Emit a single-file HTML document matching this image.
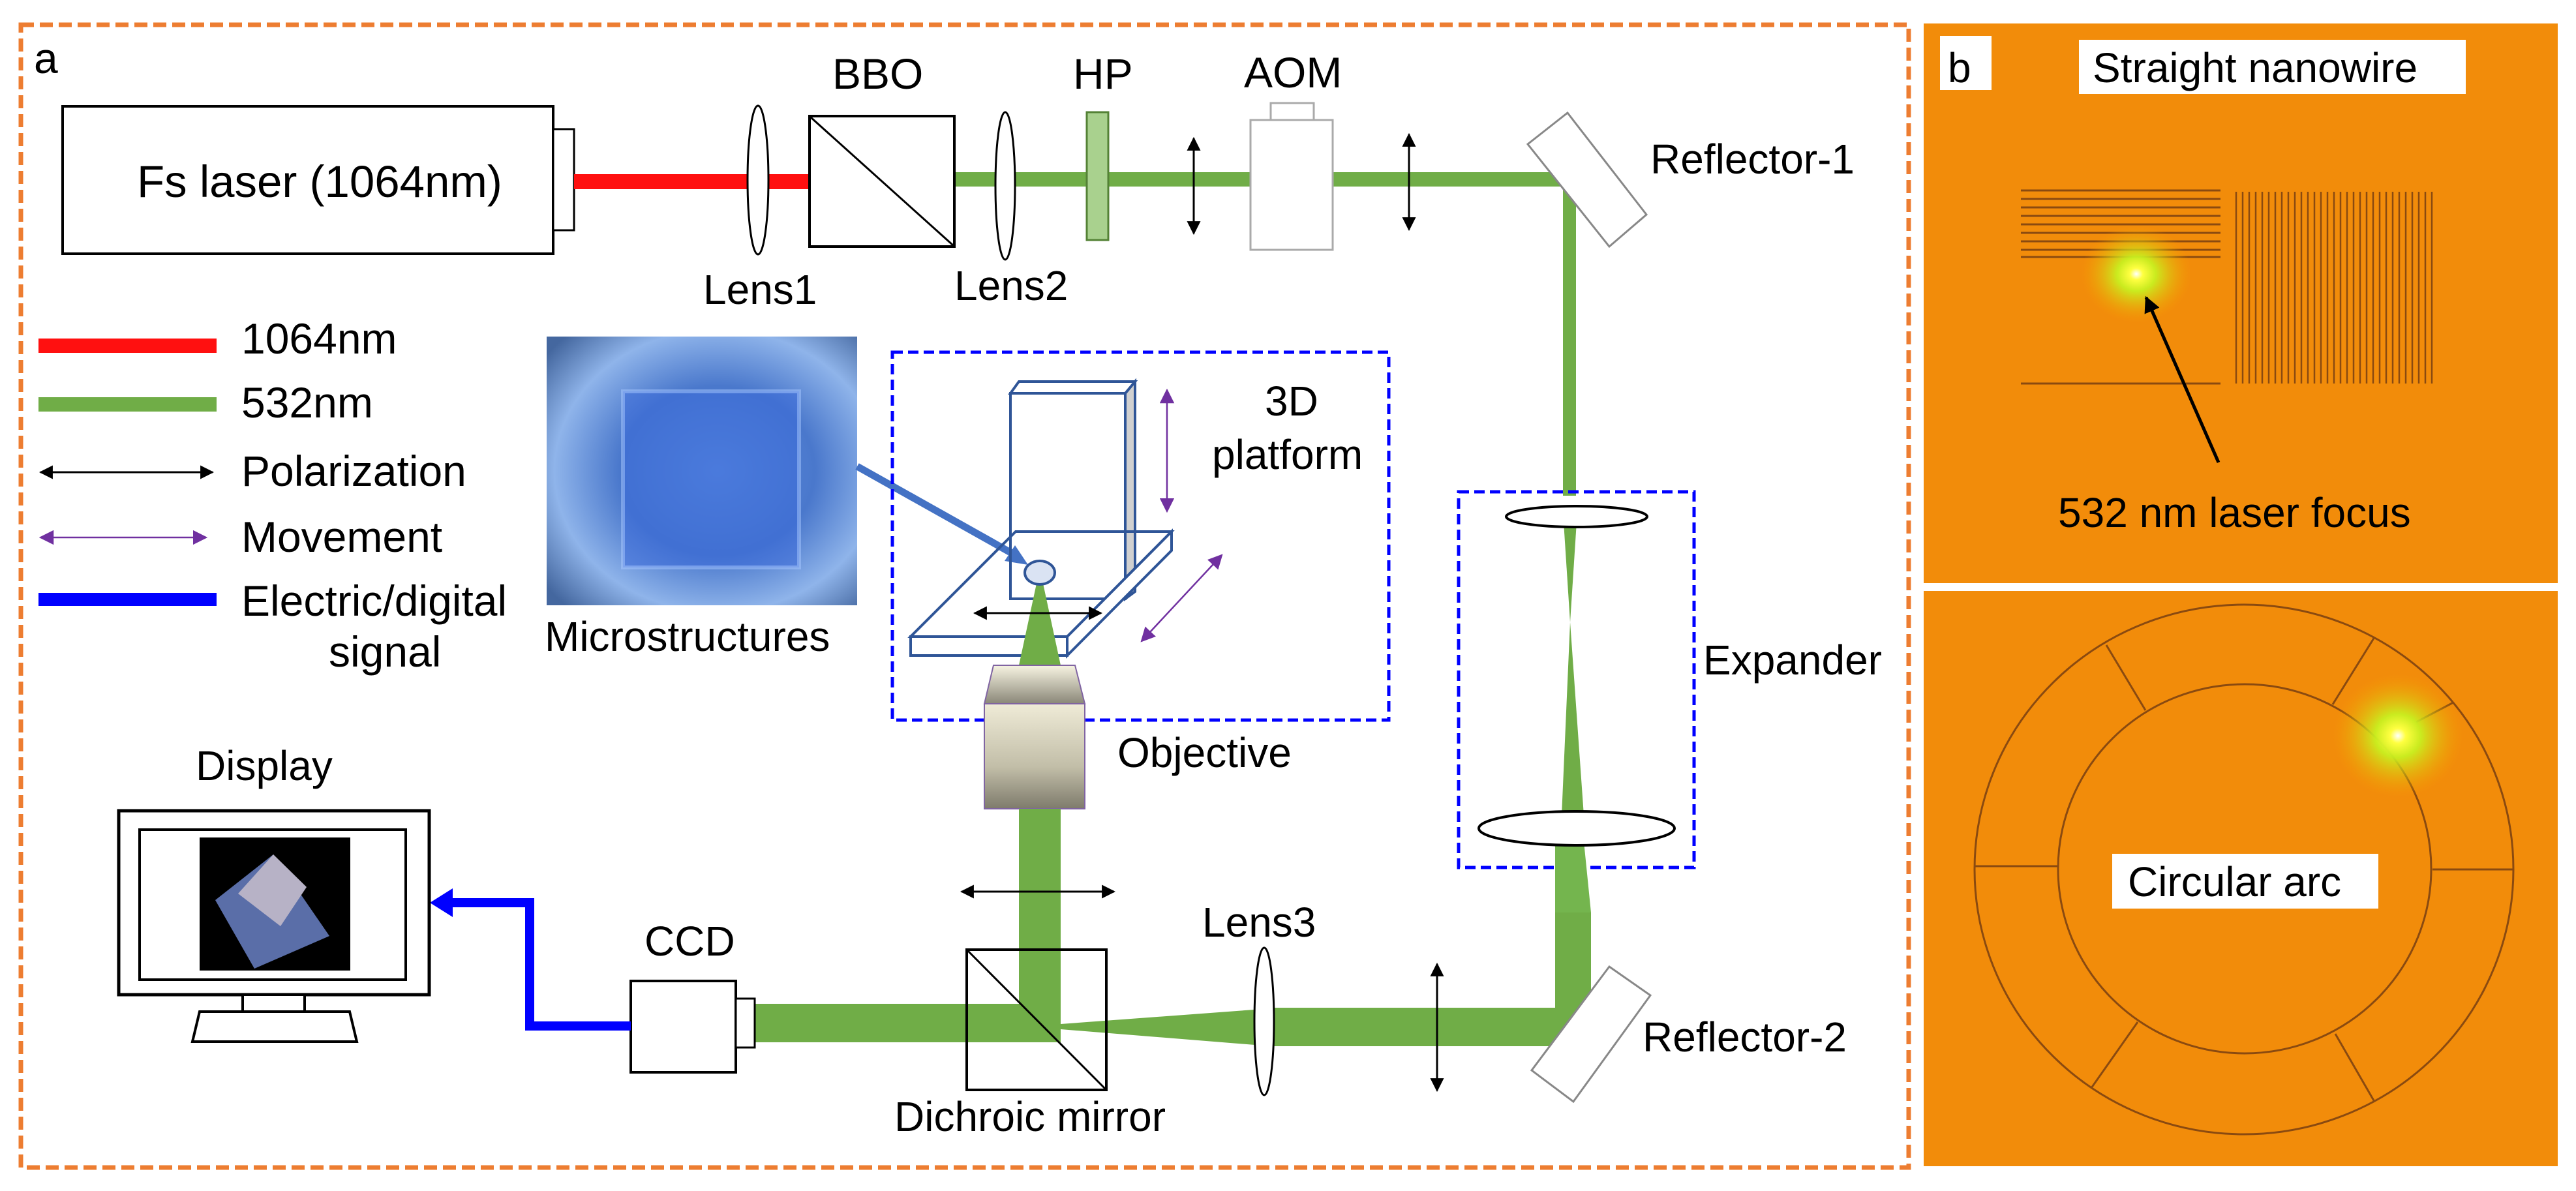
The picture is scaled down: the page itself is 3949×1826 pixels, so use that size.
<!DOCTYPE html>
<html><head><meta charset="utf-8"><style>
html,body{margin:0;padding:0;background:#fff;}
svg{display:block;}
text{font-family:"Liberation Sans",Arial,sans-serif;fill:#000;}
</style></head><body>
<svg width="3949" height="1826" viewBox="0 0 3949 1826" xmlns="http://www.w3.org/2000/svg">
<defs>
<radialGradient id="micro" cx="0.55" cy="0.5" r="0.7">
<stop offset="0" stop-color="#5f8fe0"/><stop offset="0.45" stop-color="#4a78cc"/><stop offset="0.75" stop-color="#8fb4ea"/><stop offset="1" stop-color="#44679f"/>
</radialGradient>
<linearGradient id="obj" x1="0" y1="0" x2="0" y2="1">
<stop offset="0" stop-color="#f7f4e2"/><stop offset="1" stop-color="#8a8778"/>
</linearGradient>
<linearGradient id="obj2" x1="0" y1="0" x2="0" y2="1">
<stop offset="0" stop-color="#efebd7"/><stop offset="0.6" stop-color="#c2bea8"/><stop offset="1" stop-color="#7e7b6c"/>
</linearGradient>
<radialGradient id="spot" cx="0.5" cy="0.5" r="0.5">
<stop offset="0" stop-color="#ffffff"/><stop offset="0.12" stop-color="#ffff40"/><stop offset="0.35" stop-color="#c8f020" stop-opacity="0.95"/><stop offset="1" stop-color="#f5a000" stop-opacity="0"/>
</radialGradient>
<marker id="ab" viewBox="0 0 10 10" refX="9" refY="5" markerWidth="7" markerHeight="7" orient="auto-start-reverse"><path d="M0,0L10,5L0,10z" fill="#000"/></marker>
<marker id="ap" viewBox="0 0 10 10" refX="9" refY="5" markerWidth="9" markerHeight="9" orient="auto-start-reverse"><path d="M0,0L10,5L0,10z" fill="#7030a0"/></marker>
<marker id="ak" viewBox="0 0 10 10" refX="9" refY="5" markerWidth="5" markerHeight="5" orient="auto-start-reverse"><path d="M0,0L10,5L0,10z" fill="#000"/></marker>
</defs>

<rect x="32" y="38" width="2894" height="1752" fill="none" stroke="#ED7D31" stroke-width="7" stroke-dasharray="20,9"/>
<text x="52" y="112" font-size="66">a</text>

<rect x="96" y="163" width="752" height="226" fill="#fff" stroke="#000" stroke-width="4"/>
<rect x="848" y="198" width="32" height="155" fill="#fff" stroke="#000" stroke-width="3"/>
<text x="210" y="302" font-size="69">Fs laser (1064nm)</text>
<rect x="880" y="267" width="362" height="23" fill="#FF1010"/>
<rect x="1463" y="264" width="940" height="22" fill="#70AD47"/>
<rect x="2396" y="280" width="20" height="480" fill="#70AD47"/>
<ellipse cx="1162" cy="276" rx="16" ry="114" fill="#fff" stroke="#000" stroke-width="3"/>
<rect x="1241" y="178" width="222" height="200" fill="#fff" stroke="#000" stroke-width="4"/>
<line x1="1243" y1="180" x2="1461" y2="376" stroke="#000" stroke-width="3"/>
<ellipse cx="1541" cy="285" rx="15" ry="113" fill="#fff" stroke="#000" stroke-width="3"/>
<rect x="1666" y="172" width="33" height="196" fill="#A9D18E" stroke="#548235" stroke-width="3"/>
<line x1="1830" y1="212" x2="1830" y2="358" stroke="#000" stroke-width="3" marker-start="url(#ab)" marker-end="url(#ab)"/>
<line x1="2160" y1="206" x2="2160" y2="352" stroke="#000" stroke-width="3" marker-start="url(#ab)" marker-end="url(#ab)"/>
<rect x="1948" y="158" width="66" height="27" fill="#fff" stroke="#aaa" stroke-width="3"/>
<rect x="1917" y="184" width="126" height="199" fill="#fff" stroke="#aaa" stroke-width="3"/>
<text x="1276" y="136" font-size="66">BBO</text>
<text x="1645" y="136" font-size="66">HP</text>
<text x="1907" y="134" font-size="66">AOM</text>
<text x="1078" y="466" font-size="64">Lens1</text>
<text x="1463" y="460" font-size="64">Lens2</text>
<polygon points="2342,221 2403,173 2524,329 2467,378" fill="#fff" stroke="#888" stroke-width="3"/>
<text x="2530" y="266" font-size="64">Reflector-1</text>

<rect x="59" y="519" width="273" height="22" fill="#FF1010"/>
<text x="370" y="542" font-size="66">1064nm</text>
<rect x="59" y="609" width="273" height="22" fill="#70AD47"/>
<text x="370" y="640" font-size="66">532nm</text>
<line x1="62" y1="724" x2="326" y2="724" stroke="#000" stroke-width="3" marker-start="url(#ab)" marker-end="url(#ab)"/>
<text x="370" y="745" font-size="66">Polarization</text>
<line x1="62" y1="824" x2="316" y2="824" stroke="#7030a0" stroke-width="2.5" marker-start="url(#ap)" marker-end="url(#ap)"/>
<text x="370" y="846" font-size="66">Movement</text>
<rect x="59" y="909" width="273" height="20" fill="#0000FF"/>
<text x="370" y="944" font-size="66">Electric/digital</text>
<text x="504" y="1022" font-size="66">signal</text>

<rect x="838" y="516" width="476" height="412" fill="url(#micro)"/>
<rect x="955" y="600" width="270" height="270" fill="#3a6ad8" opacity="0.55"/>
<rect x="955" y="600" width="270" height="270" fill="none" stroke="#a8c8ff" stroke-width="6" opacity="0.5"/>
<text x="835" y="998" font-size="64">Microstructures</text>
<line x1="1314" y1="715" x2="1558" y2="852" stroke="#4472C4" stroke-width="11"/>
<polygon points="1576,866 1540,860 1556,836" fill="#4472C4"/>

<rect x="1368" y="540" width="761" height="564" fill="none" stroke="#0000FF" stroke-width="5" stroke-dasharray="16,8"/>
<polygon points="1725,603 1740,585 1740,907 1725,918" fill="#d0d0d0" stroke="#2F5597" stroke-width="4"/>
<polygon points="1549,603 1562,585 1740,585 1725,603" fill="#fff" stroke="#2F5597" stroke-width="4"/>
<rect x="1549" y="603" width="176" height="315" fill="none" stroke="#2F5597" stroke-width="4"/>
<polygon points="1557,815 1796,815 1636,976 1396,976" fill="none" stroke="#2F5597" stroke-width="4"/>
<polygon points="1796,815 1796,844 1636,1005 1636,976" fill="#fff" stroke="#2F5597" stroke-width="4"/>
<rect x="1396" y="976" width="240" height="29" fill="#fff" stroke="#2F5597" stroke-width="4"/>
<polygon points="1590,890 1598,890 1626,1020 1562,1020" fill="#70AD47"/>
<ellipse cx="1594" cy="878" rx="23" ry="18" fill="#dae3f3" stroke="#2F5597" stroke-width="4"/>
<line x1="1494" y1="940" x2="1688" y2="940" stroke="#000" stroke-width="3" marker-start="url(#ab)" marker-end="url(#ab)"/>
<line x1="1789" y1="598" x2="1789" y2="784" stroke="#7030a0" stroke-width="2.5" marker-start="url(#ap)" marker-end="url(#ap)"/>
<line x1="1873" y1="851" x2="1750" y2="983" stroke="#7030a0" stroke-width="2.5" marker-start="url(#ap)" marker-end="url(#ap)"/>
<text x="1939" y="637" font-size="64">3D</text>
<text x="1858" y="719" font-size="64">platform</text>
<polygon points="1523,1020 1648,1020 1663,1079 1509,1079" fill="url(#obj)" stroke="#8064a2" stroke-width="2"/>
<rect x="1509" y="1079" width="154" height="161" fill="url(#obj2)" stroke="#8064a2" stroke-width="2"/>
<text x="1713" y="1176" font-size="64">Objective</text>
<rect x="1562" y="1240" width="64" height="355" fill="#70AD47"/>
<line x1="1474" y1="1367" x2="1708" y2="1367" stroke="#000" stroke-width="3" marker-start="url(#ab)" marker-end="url(#ab)"/>

<rect x="2236" y="754" width="361" height="576" fill="none" stroke="#0000FF" stroke-width="5" stroke-dasharray="16,8"/>
<polygon points="2397,800 2417,800 2407,954" fill="#70AD47"/>
<polygon points="2407,954 2394,1250 2428,1250" fill="#70AD47"/>
<polygon points="2384,1290 2428,1290 2439,1399 2384,1399" fill="#74B54E"/>
<ellipse cx="2417" cy="792" rx="108" ry="16" fill="#fff" stroke="#000" stroke-width="4"/>
<ellipse cx="2417" cy="1270" rx="150" ry="26" fill="#fff" stroke="#000" stroke-width="4"/>
<text x="2611" y="1034" font-size="64">Expander</text>
<rect x="2384" y="1399" width="55" height="205" fill="#70AD47"/>
<rect x="1952" y="1545" width="487" height="59" fill="#70AD47"/>
<polygon points="1626,1570 1936,1547 1936,1603 1626,1578" fill="#70AD47"/>
<rect x="1157" y="1539" width="469" height="59" fill="#70AD47"/>
<polygon points="2467,1482 2530,1526 2412,1689 2348,1641" fill="#fff" stroke="#888" stroke-width="3"/>
<text x="2518" y="1612" font-size="64">Reflector-2</text>
<line x1="2203" y1="1478" x2="2203" y2="1672" stroke="#000" stroke-width="3" marker-start="url(#ab)" marker-end="url(#ab)"/>
<ellipse cx="1938" cy="1566" rx="15" ry="113" fill="#fff" stroke="#000" stroke-width="3"/>
<text x="1843" y="1436" font-size="64">Lens3</text>
<rect x="1482" y="1456" width="214" height="215" fill="none" stroke="#000" stroke-width="4"/>
<line x1="1484" y1="1458" x2="1694" y2="1669" stroke="#000" stroke-width="3"/>
<text x="1371" y="1734" font-size="64">Dichroic mirror</text>
<rect x="967" y="1504" width="161" height="140" fill="#fff" stroke="#000" stroke-width="4"/>
<rect x="1128" y="1531" width="29" height="75" fill="#fff" stroke="#000" stroke-width="3"/>
<text x="988" y="1465" font-size="64">CCD</text>
<polyline points="967,1573 812,1573 812,1384 690,1384" fill="none" stroke="#0000FF" stroke-width="14"/>
<polygon points="659,1384 694,1362 694,1406" fill="#0000FF"/>
<rect x="182" y="1243" width="476" height="282" fill="#fff" stroke="#000" stroke-width="5"/>
<rect x="214" y="1272" width="408" height="230" fill="#fff" stroke="#000" stroke-width="4"/>
<rect x="306" y="1284" width="231" height="204" fill="#000"/>
<polygon points="419,1310 505,1435 390,1485 330,1380" fill="#5a6ea8"/>
<polygon points="419,1310 470,1360 430,1420 365,1370" fill="#b7b2c6"/>
<rect x="372" y="1525" width="95" height="26" fill="#fff" stroke="#000" stroke-width="4"/>
<polygon points="306,1551 536,1551 547,1597 295,1597" fill="#fff" stroke="#000" stroke-width="4"/>
<text x="300" y="1196" font-size="64">Display</text>

<rect x="2949" y="36" width="972" height="858" fill="#F28C0A"/>
<rect x="2974" y="55" width="79" height="83" fill="#fff"/>
<text x="2986" y="126" font-size="64">b</text>
<rect x="3187" y="61" width="593" height="83" fill="#fff"/>
<text x="3208" y="126" font-size="64">Straight nanowire</text>
<g stroke="#8a4a10" stroke-width="3">
<line x1="3098" y1="292" x2="3404" y2="292"/><line x1="3098" y1="305" x2="3404" y2="305"/>
<line x1="3098" y1="318" x2="3404" y2="318"/><line x1="3098" y1="331" x2="3404" y2="331"/>
<line x1="3098" y1="344" x2="3404" y2="344"/><line x1="3098" y1="357" x2="3404" y2="357"/>
<line x1="3098" y1="370" x2="3404" y2="370"/><line x1="3098" y1="383" x2="3404" y2="383"/>
<line x1="3098" y1="394" x2="3404" y2="394"/><line x1="3098" y1="588" x2="3404" y2="588"/>
</g>
<g stroke="#8a4a10" stroke-width="2.5">
<line x1="3428" y1="294" x2="3428" y2="588"/><line x1="3438" y1="294" x2="3438" y2="588"/><line x1="3448" y1="294" x2="3448" y2="588"/><line x1="3458" y1="294" x2="3458" y2="588"/><line x1="3468" y1="294" x2="3468" y2="588"/><line x1="3478" y1="294" x2="3478" y2="588"/><line x1="3488" y1="294" x2="3488" y2="588"/><line x1="3498" y1="294" x2="3498" y2="588"/><line x1="3508" y1="294" x2="3508" y2="588"/><line x1="3518" y1="294" x2="3518" y2="588"/><line x1="3528" y1="294" x2="3528" y2="588"/><line x1="3538" y1="294" x2="3538" y2="588"/><line x1="3548" y1="294" x2="3548" y2="588"/><line x1="3558" y1="294" x2="3558" y2="588"/><line x1="3568" y1="294" x2="3568" y2="588"/><line x1="3578" y1="294" x2="3578" y2="588"/><line x1="3588" y1="294" x2="3588" y2="588"/><line x1="3598" y1="294" x2="3598" y2="588"/><line x1="3608" y1="294" x2="3608" y2="588"/><line x1="3618" y1="294" x2="3618" y2="588"/><line x1="3628" y1="294" x2="3628" y2="588"/><line x1="3638" y1="294" x2="3638" y2="588"/><line x1="3648" y1="294" x2="3648" y2="588"/><line x1="3658" y1="294" x2="3658" y2="588"/><line x1="3668" y1="294" x2="3668" y2="588"/><line x1="3678" y1="294" x2="3678" y2="588"/><line x1="3688" y1="294" x2="3688" y2="588"/><line x1="3698" y1="294" x2="3698" y2="588"/><line x1="3708" y1="294" x2="3708" y2="588"/><line x1="3718" y1="294" x2="3718" y2="588"/><line x1="3728" y1="294" x2="3728" y2="588"/>
</g>
<ellipse cx="3275" cy="420" rx="85" ry="75" fill="url(#spot)"/>
<line x1="3401" y1="709" x2="3290" y2="456" stroke="#000" stroke-width="5" marker-end="url(#ak)"/>
<text x="3155" y="808" font-size="64">532 nm laser focus</text>

<rect x="2949" y="906" width="972" height="882" fill="#F28C0A"/>
<g fill="none" stroke="#8a4a10" stroke-width="3">
<ellipse cx="3440" cy="1333" rx="413" ry="406"/>
<ellipse cx="3441" cy="1332" rx="286" ry="283"/>
<line x1="3229" y1="989" x2="3289" y2="1089"/>
<line x1="3640" y1="977" x2="3576" y2="1080"/>
<line x1="3761" y1="1077" x2="3704" y2="1107"/>
<line x1="3028" y1="1328" x2="3155" y2="1328"/>
<line x1="3729" y1="1333" x2="3854" y2="1333"/>
<line x1="3277" y1="1567" x2="3206" y2="1668"/>
<line x1="3580" y1="1585" x2="3640" y2="1689"/>
</g>
<ellipse cx="3676" cy="1128" rx="100" ry="95" fill="url(#spot)"/>
<rect x="3238" y="1309" width="408" height="84" fill="#fff"/>
<text x="3262" y="1374" font-size="64">Circular arc</text>
</svg>
</body></html>
